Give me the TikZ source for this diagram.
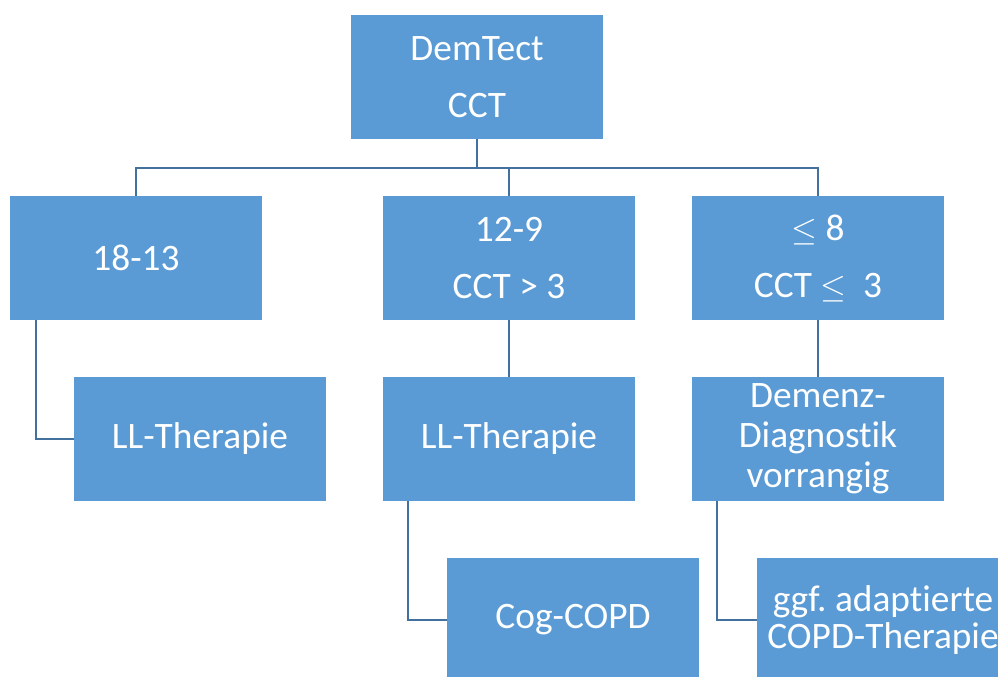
\documentclass[tikz,border=0pt]{standalone}
\usepackage{fontspec}
\setmainfont{Carlito}[Ligatures=NoCommon]
\definecolor{boxblue}{HTML}{5B9BD5}
\definecolor{linkblue}{HTML}{41719C}
\begin{document}
\begin{tikzpicture}[x=0.75pt, y=-0.75pt,
    box/.style={fill=boxblue, text=white, align=center, inner sep=0pt,
        minimum width=189pt, minimum height=93pt,
        font=\fontsize{28}{42.75}\selectfont},
    link/.style={draw=linkblue, line width=1.6pt}]
    \path[use as bounding box, clip] (0,0) rectangle (998,676);
    % Stufe 1
    \node[box] (dem) at (477,77) {DemTect\\CCT};
    % Stufe 2
    \node[box] (g1) at (136,258) {18-13};
    \node[box] (g2) at (509,258) {12-9\\CCT > 3};
    \node[box] (g3) at (818,258) {$\leq$ 8\\CCT $\leq$\ \ 3};
    % Stufe 3
    \node[box] (t1) at (200,439) {LL-Therapie};
    \node[box] (t2) at (509,439) {LL-Therapie};
    \node[box, font=\fontsize{28}{30}\selectfont] (t3) at (818,439) {Demenz-\\Diagnostik\\vorrangig};
    % Stufe 4
    \node[box] (c2) at (573,620) {Cog-COPD};
    \node[box, font=\fontsize{28}{27.75}\selectfont] (c3) at (883,620) {ggf.\ adaptierte\\COPD-Therapie};
    % Verbindungen
    \draw[link] (dem.south) -- ++(0,29) coordinate (bus);
    \draw[link] (bus) -| (g1.north);
    \draw[link] (bus) -| (g2.north);
    \draw[link] (bus) -| (g3.north);
    \draw[link] ([xshift=19.5pt]g1.south west) |- (t1.west);
    \draw[link] (g2.south) -- (t2.north);
    \draw[link] (g3.south) -- (t3.north);
    \draw[link] ([xshift=18.75pt]t2.south west) |- (c2.west);
    \draw[link] ([xshift=18.75pt]t3.south west) |- (c3.west);
\end{tikzpicture}
\end{document}
